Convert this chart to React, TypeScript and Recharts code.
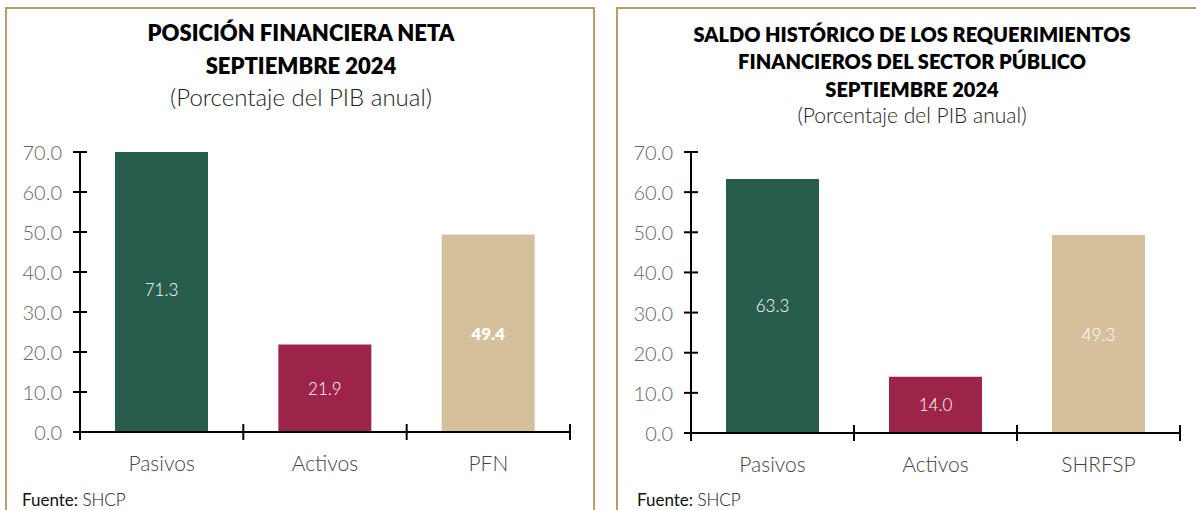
import React from "react";
import { BarChart, Bar, XAxis, YAxis, Cell, LabelList } from "recharts";

const PFN_CATEGORIES = ["Pasivos", "Activos", "PFN"];
const PFN_VALUES = [71.3, 21.9, 49.4];
const SHRFSP_CATEGORIES = ["Pasivos", "Activos", "SHRFSP"];
const SHRFSP_VALUES = [63.3, 14.0, 49.3];
const Y_TICKS = [0, 10, 20, 30, 40, 50, 60, 70];
const BAR_COLORS = ["#285C4D", "#9D2449", "#D4C19C"];

const FONT = "Lato, 'Open Sans', sans-serif";
const BORDER = "#BF9B6B";

function YTick(props: any) {
  const { x, y, payload } = props;
  return (
    <g>
      <line x1={x + 11} x2={x + 25} y1={y} y2={y} stroke="#000" strokeWidth={2} />
      <text x={x} y={y} textAnchor="end" dominantBaseline="central" fontFamily={FONT} fontWeight={300} fontSize={20} fill="#666">
        {Number(payload.value).toFixed(1)}
      </text>
    </g>
  );
}

function XTick(props: any) {
  const { x, y, payload, index, visibleTicksCount } = props;
  const half = payload.offset || 0;
  const last = index === visibleTicksCount - 1;
  return (
    <g>
      <line x1={x - half} x2={x - half} y1={y - 8} y2={y + 8} stroke="#000" strokeWidth={2} />
      {last && <line x1={x + half} x2={x + half} y1={y - 8} y2={y + 8} stroke="#000" strokeWidth={2} />}
      <text x={x} y={y + 30} textAnchor="middle" dominantBaseline="central" fontFamily={FONT} fontWeight={300} fontSize={21} fill="#444">
        {payload.value}
      </text>
    </g>
  );
}

function ValueLabel(props: any) {
  const { x, y, width, height, value, index, boldIndex } = props;
  return (
    <text
      x={x + width / 2}
      y={y + height / 2}
      textAnchor="middle"
      dominantBaseline="central"
      fontFamily={FONT}
      fontWeight={index === boldIndex ? 800 : 300}
      fontSize={17}
      fill="#fff"
    >
      {Number(value).toFixed(1)}
    </text>
  );
}

function Chart({ categories, values, width, margin, boldIndex }: any) {
  const data = categories.map((c: string, i: number) => ({ name: c, value: values[i] }));
  return (
    <BarChart width={width} height={370} data={data} margin={margin} barSize={93}>
      <XAxis
        dataKey="name"
        axisLine={{ stroke: "#000", strokeWidth: 2 }}
        tickLine={false}
        tickSize={0}
        tickMargin={0}
        height={50}
        tick={<XTick />}
        interval={0}
      />
      <YAxis
        domain={[0, 70]}
        ticks={Y_TICKS}
        allowDataOverflow
        axisLine={{ stroke: "#000", strokeWidth: 2 }}
        tickLine={false}
        tickSize={0}
        tickMargin={18}
        width={70}
        tick={<YTick />}
      />
      <Bar dataKey="value" isAnimationActive={false}>
        {data.map((_: any, i: number) => (
          <Cell key={i} fill={BAR_COLORS[i]} />
        ))}
        <LabelList dataKey="value" content={(p: any) => <ValueLabel {...p} boldIndex={boldIndex} />} />
      </Bar>
    </BarChart>
  );
}

function Line({ text, cx, cy, size, weight, lh }: any) {
  return (
    <div
      style={{
        position: "absolute",
        left: cx - 300,
        width: 600,
        top: cy - lh / 2,
        height: lh,
        lineHeight: `${lh}px`,
        textAlign: "center",
        fontSize: size,
        fontWeight: weight,
        color: weight >= 700 ? "#000" : "#222",
        whiteSpace: "nowrap",
      }}
    >
      {text}
    </div>
  );
}

export default function App() {
  return (
    <div
      style={{
        position: "absolute",
        left: 0,
        top: 0,
        width: 1196,
        height: 510,
        overflow: "hidden",
        background: "#fff",
        fontFamily: FONT,
      }}
    >
      <div style={{ position: "absolute", left: 5, top: 7, width: 590, height: 540, border: `2px solid ${BORDER}`, boxSizing: "border-box" }} />
      <div style={{ position: "absolute", left: 616, top: 7, width: 600, height: 540, border: `2px solid ${BORDER}`, boxSizing: "border-box" }} />

      <Line text="POSICIÓN FINANCIERA NETA" cx={301} cy={33} size={22} weight={800} lh={30} />
      <Line text="SEPTIEMBRE 2024" cx={301} cy={66} size={22} weight={800} lh={30} />
      <Line text="(Porcentaje del PIB anual)" cx={301} cy={97} size={24} weight={300} lh={30} />

      <Line text="SALDO HISTÓRICO DE LOS REQUERIMIENTOS" cx={912} cy={34} size={20} weight={800} lh={26} />
      <Line text="FINANCIEROS DEL SECTOR PÚBLICO" cx={912} cy={61} size={20} weight={800} lh={26} />
      <Line text="SEPTIEMBRE 2024" cx={912} cy={89} size={20} weight={800} lh={26} />
      <Line text="(Porcentaje del PIB anual)" cx={912} cy={115} size={21} weight={300} lh={26} />

      <div style={{ position: "absolute", left: 0, top: 120 }}>
        <Chart categories={PFN_CATEGORIES} values={PFN_VALUES} width={600} margin={{ top: 32, right: 30, left: 10, bottom: 8 }} boldIndex={2} />
      </div>
      <div style={{ position: "absolute", left: 610, top: 120 }}>
        <Chart categories={SHRFSP_CATEGORIES} values={SHRFSP_VALUES} width={586} margin={{ top: 32, right: 16, left: 11, bottom: 7 }} boldIndex={-1} />
      </div>

      <div style={{ position: "absolute", left: 22, top: 490, fontSize: 17, lineHeight: "20px", color: "#111" }}>
        Fuente: <span style={{ fontWeight: 300, color: "#111" }}>SHCP</span>
      </div>
      <div style={{ position: "absolute", left: 637, top: 490, fontSize: 17, lineHeight: "20px", color: "#111" }}>
        Fuente: <span style={{ fontWeight: 300, color: "#111" }}>SHCP</span>
      </div>
    </div>
  );
}
